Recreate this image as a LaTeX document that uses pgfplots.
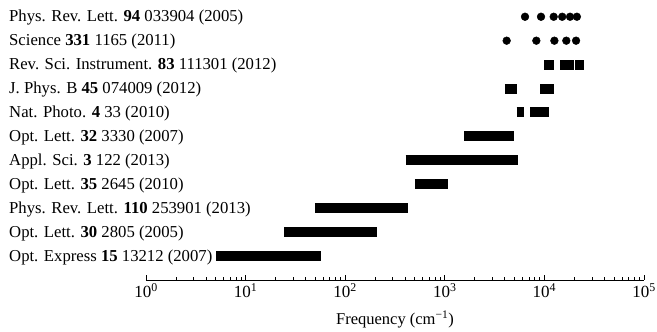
\documentclass[border=0pt]{standalone}
\usepackage{pgfplots}
\pgfplotsset{compat=1.18}
\usepackage{fontspec}
\setmainfont{Liberation Serif}
\newcommand{\lab}[2]{\node[anchor=base west, inner sep=0pt, font=\fontsize{16.7}{19}\selectfont] at (axis cs:1,#1) [xshift=-137pt, yshift=-5pt] {#2};}
\begin{document}
\begin{tikzpicture}
\begin{axis}[
  scale only axis,
  width=498pt, height=280pt,
  xmode=log, log basis x=10,
  xmin=1, xmax=100000,
  ymin=0, ymax=11.7,
  axis x line*=bottom,
  hide y axis,
  axis line style={-, line width=0.7pt},
  xtick pos=bottom,
  xtick align=inside,
  major tick length=5pt, minor tick length=3pt,
  tick style={black, line width=0.7pt},
  xtick={1,10,100,1000,10000,100000},
  minor xtick={2,3,4,5,6,7,8,9,20,30,40,50,60,70,80,90,200,300,400,500,600,700,800,900,2000,3000,4000,5000,6000,7000,8000,9000,20000,30000,40000,50000,60000,70000,80000,90000},
  xticklabels={10\textsuperscript{0},10\textsuperscript{1},10\textsuperscript{2},10\textsuperscript{3},10\textsuperscript{4},10\textsuperscript{5}},
  xticklabel style={font=\fontsize{17}{19}\selectfont},
  xlabel={Frequency (cm\textsuperscript{−1})},
  xlabel style={font=\fontsize{16.5}{19}\selectfont, at={(axis description cs:0.5,0)}, anchor=base, yshift=-45pt},
  clip=false,
]
% dots
\addplot[only marks, mark=*, mark size=3.9pt, black] coordinates {(6390,11) (9250,11) (12400,11) (15100,11) (18100,11) (21200,11)};
\addplot[only marks, mark=*, mark size=3.9pt, black] coordinates {(4180,10) (8300,10) (12600,10) (16600,10) (20800,10)};
% bars
\addplot[line width=10pt, black] coordinates {(9980,9) (12500,9)};
\addplot[line width=10pt, black] coordinates {(14350,9) (19950,9)};
\addplot[line width=10pt, black] coordinates {(20300,9) (25000,9)};
\addplot[line width=10pt, black] coordinates {(4020,8) (5270,8)};
\addplot[line width=10pt, black] coordinates {(9100,8) (12570,8)};
\addplot[line width=10pt, black] coordinates {(5270,7) (6240,7)};
\addplot[line width=10pt, black] coordinates {(7170,7) (11120,7)};
\addplot[line width=10pt, black] coordinates {(1570,6) (4990,6)};
\addplot[line width=10pt, black] coordinates {(405,5) (5470,5)};
\addplot[line width=10pt, black] coordinates {(502,4) (1070,4)};
\addplot[line width=10pt, black] coordinates {(49.7,3) (430,3)};
\addplot[line width=10pt, black] coordinates {(24.3,2) (210,2)};
\addplot[line width=10pt, black] coordinates {(5.05,1) (56.8,1)};
% labels
\lab{11}{Phys. Rev. Lett. \textbf{94} 033904 (2005)}
\lab{10}{Science \textbf{331} 1165 (2011)}
\lab{9}{Rev. Sci. Instrument. \textbf{83} 111301 (2012)}
\lab{8}{J. Phys. B \textbf{45} 074009 (2012)}
\lab{7}{Nat. Photo. \textbf{4} 33 (2010)}
\lab{6}{Opt. Lett. \textbf{32} 3330 (2007)}
\lab{5}{Appl. Sci. \textbf{3} 122 (2013)}
\lab{4}{Opt. Lett. \textbf{35} 2645 (2010)}
\lab{3}{Phys. Rev. Lett. \textbf{110} 253901 (2013)}
\lab{2}{Opt. Lett. \textbf{30} 2805 (2005)}
\lab{1}{Opt. Express \textbf{15} 13212 (2007)}
\end{axis}
\pgfresetboundingbox
\path (-146pt,-52pt) rectangle (511pt,280pt);
\end{tikzpicture}
\end{document}
